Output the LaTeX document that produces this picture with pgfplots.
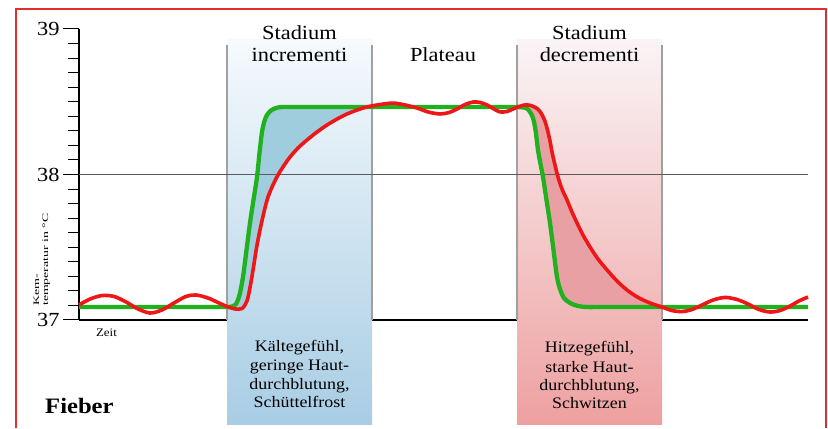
\documentclass[border=0pt]{standalone}
\usepackage{fontspec}
\setmainfont[FakeStretch=1.12]{Liberation Serif}
\usepackage{graphicx}
\usepackage{pgfplots}
\pgfplotsset{compat=1.18}
\usepackage{pgfplotstable}
\usepgfplotslibrary{fillbetween}

\definecolor{cgreen}{RGB}{34,177,30}
\definecolor{cred}{RGB}{238,22,22}
\definecolor{fillblue}{RGB}{160,205,222}
\definecolor{fillpink}{RGB}{232,160,165}
\definecolor{frame}{RGB}{225,45,45}

% Sollwert (gruen): Zeit, Temperatur
\pgfplotstableread{
x y
0 37.089
30 37.089
60 37.089
90 37.089
115 37.089
132 37.089
143 37.089
149 37.089
153 37.093
157 37.110
160.5 37.172
164 37.296
167.5 37.481
171 37.667
174.5 37.825
178 37.983
180.5 38.148
183 38.292
185.5 38.368
188 38.409
192 38.440
197 38.457
203 38.464
213 38.464
226 38.464
246 38.464
276 38.464
306 38.464
336 38.464
366 38.464
396 38.464
421 38.464
437 38.464
447 38.457
451 38.430
454 38.388
456.5 38.306
459 38.168
461.5 38.072
464 37.983
467.5 37.825
471 37.667
474.5 37.481
478 37.296
481 37.213
485 37.151
491 37.117
499 37.096
508 37.089
519 37.089
533 37.089
556 37.089
586 37.089
621 37.089
661 37.089
701 37.089
729 37.089
}\sollwert

% Kerntemperatur (rot)
\pgfplotstableread{
x y
0 37.103
11 37.144
23 37.168
35 37.162
47 37.124
59 37.076
71 37.048
83 37.069
95 37.117
107 37.162
117 37.172
129 37.151
139 37.120
148 37.093
156 37.076
163 37.079
168 37.131
171.5 37.241
174.5 37.364
177.5 37.495
181 37.619
185 37.742
189 37.845
194 37.928
199 37.997
205 38.062
211 38.120
219 38.182
228 38.237
238 38.292
248 38.340
258 38.381
268 38.416
278 38.443
288 38.464
301 38.481
314 38.491
326 38.478
338 38.457
349 38.430
361 38.416
370 38.426
378 38.450
386 38.481
394 38.498
401 38.495
408 38.478
415 38.450
421 38.430
428 38.433
434 38.450
440 38.467
446 38.478
452 38.474
458 38.454
462 38.423
465.5 38.375
468.5 38.306
471 38.230
473 38.155
476 38.065
479 37.983
483 37.900
488 37.825
493 37.742
498 37.667
504 37.584
511 37.502
519 37.419
528 37.344
538 37.268
548 37.206
559 37.155
571 37.117
583 37.089
593 37.065
603 37.058
613 37.072
623 37.103
634 37.137
646 37.155
658 37.141
669 37.110
680 37.072
691 37.055
701 37.065
711 37.096
720 37.131
729 37.158
}\kerntemp

\begin{document}
\begin{tikzpicture}
\path (0,0) rectangle (828pt,428pt);

% Hintergrund in Bildpunkten (y nach unten)
\begin{scope}[shift={(0pt,428pt)}, x=1pt, y=-1pt]
  \shade[top color={rgb,255:red,246;green,250;blue,253},
         bottom color={rgb,255:red,168;green,205;blue,228}]
    (227,40) rectangle (372,424);
  \shade[top color={rgb,255:red,250;green,244;blue,246},
         middle color={rgb,255:red,238;green,208;blue,218},
         bottom color={rgb,255:red,238;green,160;blue,160}]
    (517,40) rectangle (662,424);
  \foreach \xx in {227,372,517,662}
    \draw[line width=1.3pt, color={rgb,255:red,160;green,160;blue,160}] (\xx,45) -- (\xx,320);
  \draw[frame, line width=1.5pt] (16,428) -- (16,9) -- (826,9) -- (826,428);
\end{scope}

\begin{axis}[
    at={(79pt,108pt)}, anchor=south west,
    width=729pt, height=291pt, scale only axis,
    xmin=0, xmax=729, ymin=37, ymax=39,
    clip=false,
    axis lines*=left,
    axis line style={black, line width=1.3pt},
    xtick=\empty,
    ytick={37,38,39},
    minor y tick num=9,
    tick align=outside,
    major tick length=16pt,
    minor tick length=11pt,
    every tick/.style={black, line width=1pt},
    /pgf/number format/assume math mode=true,
    yticklabel style={font=\fontsize{20}{20}\selectfont},
    fill between/on layer=main,
]
  \addplot[draw=none, smooth, name path=G] table {\sollwert};
  \addplot[draw=none, smooth, name path=R] table {\kerntemp};
  \addplot[fill=fillblue, draw=none] fill between[of=G and R,
      soft clip={domain=150:293}];
  \addplot[fill=fillpink, draw=none] fill between[of=G and R,
      soft clip={domain=446:583}];

  \draw[line width=0.9pt, color={rgb,255:red,90;green,90;blue,90}] (axis cs:0,38) -- (axis cs:729,38);

  \addplot[cgreen, line width=4.3pt, smooth] table {\sollwert};
  \addplot[cred, line width=3.6pt, smooth] table {\kerntemp};
\end{axis}

% Beschriftung in Bildpunkten
\begin{scope}[shift={(0pt,428pt)}, x=1pt, y=-1pt]
  \begin{scope}[every node/.style={inner sep=0pt, anchor=base, font=\fontsize{20}{22}\selectfont}]
    \node at (299.5,40) {Stadium};
    \node at (299.5,62) {incrementi};
    \node at (443,62) {Plateau};
    \node at (589.5,40) {Stadium};
    \node at (589.5,62) {decrementi};
  \end{scope}
  \begin{scope}[every node/.style={inner sep=0pt, anchor=base, font=\fontsize{16}{18}\selectfont}]
    \node at (299.5,352) {Kältegefühl,};
    \node at (299.5,371) {geringe Haut-};
    \node at (299.5,389.5) {durchblutung,};
    \node at (299.5,408) {Schüttelfrost};
    \node at (589.5,353) {Hitzegefühl,};
    \node at (589.5,372) {starke Haut-};
    \node at (589.5,390.5) {durchblutung,};
    \node at (589.5,408.5) {Schwitzen};
  \end{scope}
  \node[inner sep=0pt, anchor=base west, font=\fontsize{22}{22}\selectfont\bfseries] at (45,413) {Fieber};
  \node[inner sep=0pt, anchor=base, font=\fontsize{11.5}{11.5}\selectfont] at (106.5,337) {Zeit};
  \node[inner sep=0pt, anchor=south west, rotate=90, font=\fontsize{8.5}{9}\selectfont] at (51,306)
    {\scalebox{1.45}[1]{\begin{tabular}{@{}l@{}}Kern-\\temperatur in °C\end{tabular}}};
\end{scope}
\end{tikzpicture}
\end{document}
